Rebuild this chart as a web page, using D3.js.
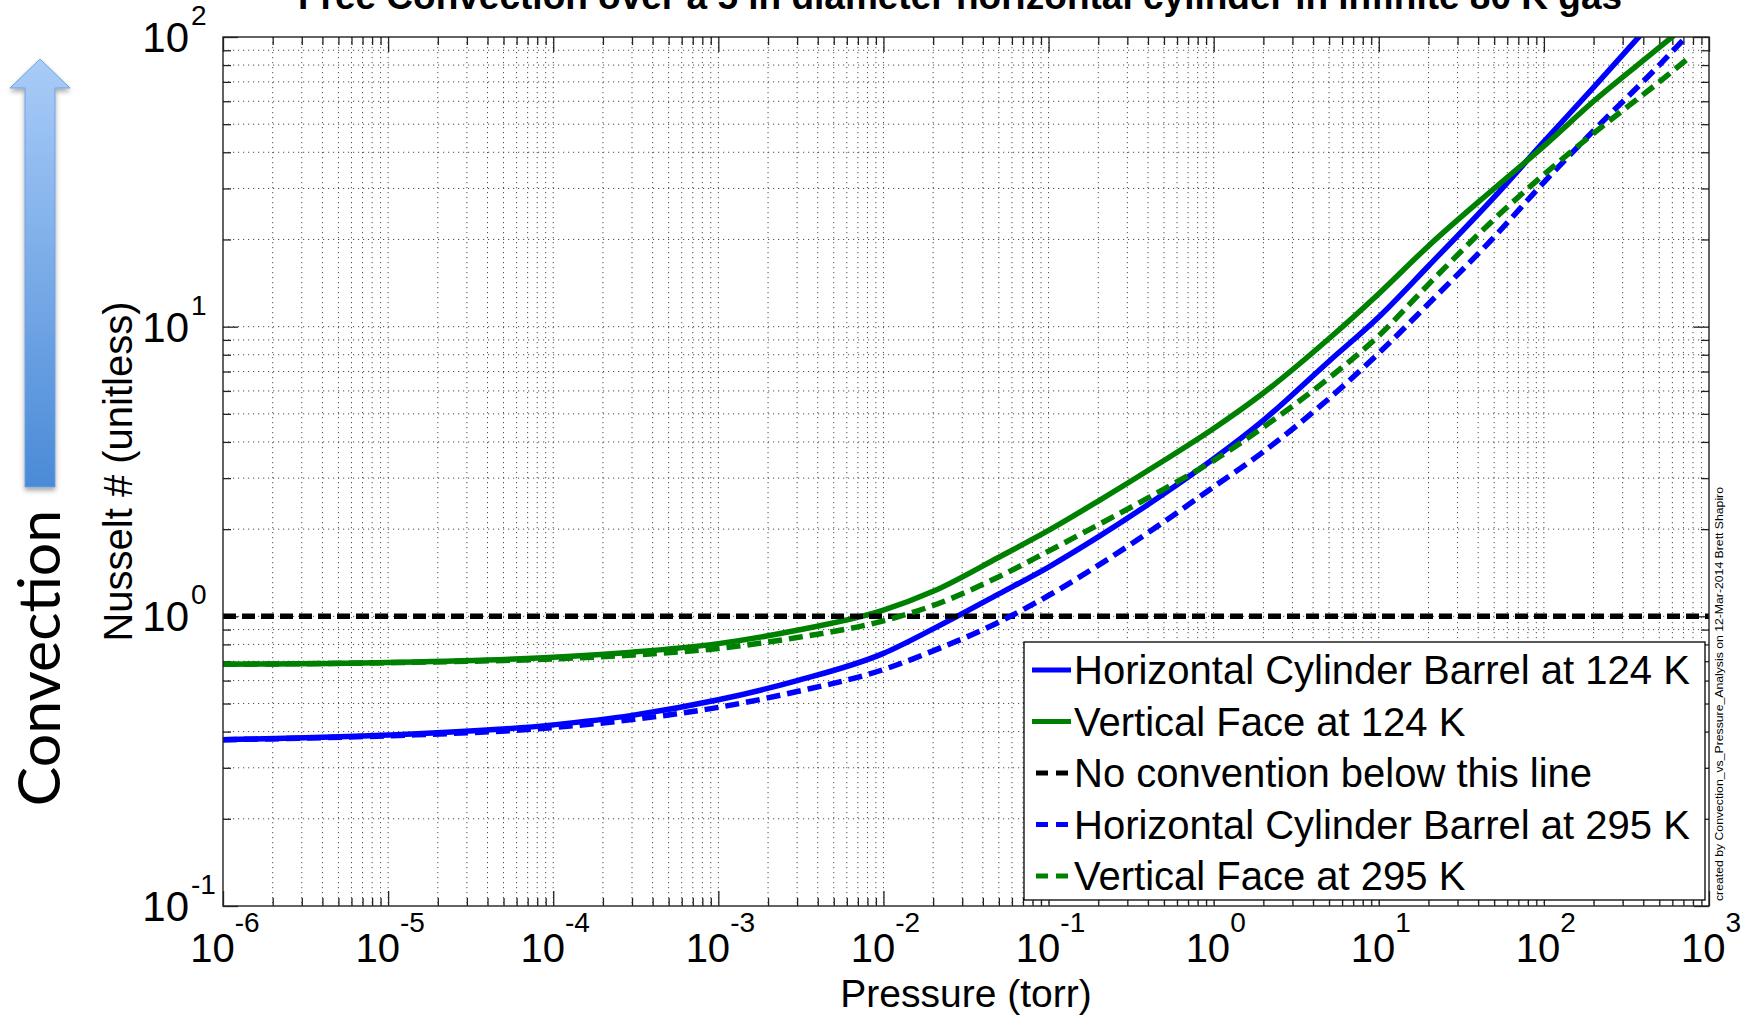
<!DOCTYPE html>
<html>
<head>
<meta charset="utf-8">
<script src="https://cdn.jsdelivr.net/npm/d3@7"></script>
<style>
  body { margin: 0; background: #fff; }
  svg { display: block; }
</style>
</head>
<body>
<svg id="chart" width="1749" height="1016"></svg>
<script>
// Pressure samples (torr) shared by every curve
const pressure = [1e-6, 1e-5, 1e-4, 3e-4, 1e-3, 3e-3, 1e-2, 2e-2, 5e-2, 0.1, 0.2, 0.5, 1, 2, 5, 10, 20, 50, 100, 200, 500, 760];

// Nusselt number for each case at the pressures above
const nuBarrel124 = [0.375, 0.389, 0.422, 0.455, 0.515, 0.60, 0.745, 0.905, 1.195, 1.48, 1.88, 2.65, 3.5, 4.75, 7.6, 10.8, 16.2, 28, 43.5, 67, 120, 157];
const nuFace124   = [0.683, 0.693, 0.722, 0.752, 0.805, 0.895, 1.05, 1.22, 1.60, 1.98, 2.5, 3.45, 4.45, 5.9, 9.1, 13.0, 19.0, 30, 42, 60, 92, 112];
const nuBarrel295 = [0.375, 0.387, 0.413, 0.44, 0.485, 0.55, 0.655, 0.76, 0.955, 1.18, 1.50, 2.12, 2.8, 3.7, 5.65, 8.1, 12.0, 20.4, 31.5, 47.5, 80, 103];
const nuFace295   = [0.683, 0.692, 0.713, 0.735, 0.775, 0.845, 0.965, 1.09, 1.37, 1.68, 2.07, 2.75, 3.45, 4.5, 6.65, 9.3, 14.0, 23.5, 33.5, 46.5, 70, 85];

// Threshold below which there is no convection
const noConvectionLevel = 1;

// Axis decades (powers of ten)
const xTickExponents = [-6, -5, -4, -3, -2, -1, 0, 1, 2, 3];
const yTickExponents = [-1, 0, 1, 2];

const legendLabels = [
  "Horizontal Cylinder Barrel at 124 K",
  "Vertical Face at 124 K",
  "No convention below this line",
  "Horizontal Cylinder Barrel at 295 K",
  "Vertical Face at 295 K"
];

const titleText = "Free Convection over a 5 in diameter horizontal cylinder in infinite 80 K gas";
const xLabel = "Pressure (torr)";
const yLabel = "Nusselt # (unitless)";
const sideLabel = "Convection";
const creditText = "created by Convection_vs_Pressure_Analysis on 12-Mar-2014 Brett Shapiro";

// ---------------------------------------------------------------------------
const BLUE = "#0000ff", GREEN = "#008000", BLACK = "#000000";
const FONT = "'Liberation Sans', Arial, Helvetica, sans-serif";

const svg = d3.select("#chart");
const plot = { left: 223, top: 37, right: 1709, bottom: 906 };

const x = d3.scaleLog()
  .domain([Math.pow(10, xTickExponents[0]), Math.pow(10, xTickExponents[xTickExponents.length - 1])])
  .range([plot.left, plot.right]);
const y = d3.scaleLog()
  .domain([Math.pow(10, yTickExponents[0]), Math.pow(10, yTickExponents[yTickExponents.length - 1])])
  .range([plot.bottom, plot.top]);

const series = [
  { label: legendLabels[0], values: nuBarrel124, color: BLUE,  dashed: false },
  { label: legendLabels[1], values: nuFace124,   color: GREEN, dashed: false },
  { label: legendLabels[2], values: null,        color: BLACK, dashed: true  },
  { label: legendLabels[3], values: nuBarrel295, color: BLUE,  dashed: true  },
  { label: legendLabels[4], values: nuFace295,   color: GREEN, dashed: true  }
];

// major / minor tick values for a log axis spanning the given decades
function logTicks(exps) {
  const major = [], minor = [];
  exps.forEach((e, i) => {
    const base = Math.pow(10, e);
    major.push(base);
    if (i < exps.length - 1) for (let k = 2; k <= 9; k++) minor.push(+(k * base).toPrecision(6));
  });
  return { major, minor };
}
const xt = logTicks(xTickExponents);
const yt = logTicks(yTickExponents);

const defs = svg.append("defs");
defs.append("clipPath").attr("id", "plotClip")
  .append("rect")
  .attr("x", plot.left).attr("y", plot.top)
  .attr("width", plot.right - plot.left).attr("height", plot.bottom - plot.top);

// ---------- dotted grid (major and minor) ----------
const grid = svg.append("g").attr("stroke", "#111").attr("stroke-width", 1)
  .attr("stroke-dasharray", "1.2,3.8").attr("opacity", 0.75);
grid.selectAll("line.gx").data(xt.major.concat(xt.minor).filter(v => x(v) > plot.left + 1 && x(v) < plot.right - 1))
  .join("line").attr("class", "gx")
  .attr("x1", d => x(d)).attr("x2", d => x(d))
  .attr("y1", plot.top).attr("y2", plot.bottom);
grid.selectAll("line.gy").data(yt.major.concat(yt.minor).filter(v => y(v) > plot.top + 1 && y(v) < plot.bottom - 1))
  .join("line").attr("class", "gy")
  .attr("y1", d => y(d)).attr("y2", d => y(d))
  .attr("x1", plot.left).attr("x2", plot.right);

// ---------- inward ticks on all four sides ----------
function addTicks(axisFn, scale, values, size, transform) {
  svg.append("g").attr("transform", transform)
    .call(axisFn(scale).tickValues(values).tickSizeInner(size).tickSizeOuter(0).tickFormat(""))
    .call(g => g.select(".domain").remove())
    .selectAll("line").attr("stroke", "#222").attr("stroke-width", 1.3);
}
addTicks(d3.axisBottom, x, xt.major, -15, `translate(0,${plot.bottom})`);
addTicks(d3.axisBottom, x, xt.minor, -8, `translate(0,${plot.bottom})`);
addTicks(d3.axisTop, x, xt.major, -15, `translate(0,${plot.top})`);
addTicks(d3.axisTop, x, xt.minor, -8, `translate(0,${plot.top})`);
addTicks(d3.axisLeft, y, yt.major, -15, `translate(${plot.left},0)`);
addTicks(d3.axisLeft, y, yt.minor, -8, `translate(${plot.left},0)`);
addTicks(d3.axisRight, y, yt.major, -15, `translate(${plot.right},0)`);
addTicks(d3.axisRight, y, yt.minor, -8, `translate(${plot.right},0)`);

// ---------- curves ----------
const lineGen = d3.line()
  .x(d => x(d[0])).y(d => y(d[1]))
  .curve(d3.curveMonotoneX);

const curves = svg.append("g").attr("clip-path", "url(#plotClip)").attr("fill", "none");
series.forEach(s => {
  const pts = s.values
    ? pressure.map((p, i) => [p, s.values[i]])
    : [[x.domain()[0], noConvectionLevel], [x.domain()[1], noConvectionLevel]];
  curves.append("path")
    .attr("d", lineGen(pts))
    .attr("stroke", s.color)
    .attr("stroke-width", 5.5)
    .attr("stroke-dasharray", s.dashed ? (s.values ? "14,7" : "13,6") : null)
    .attr("stroke-linejoin", "round");
});

// ---------- axes box ----------
svg.append("rect")
  .attr("x", plot.left).attr("y", plot.top)
  .attr("width", plot.right - plot.left).attr("height", plot.bottom - plot.top)
  .attr("fill", "none").attr("stroke", "#222").attr("stroke-width", 1.4);

// ---------- tick labels (10 with superscript exponent) ----------
const xLab = svg.append("g").attr("font-family", FONT).attr("fill", "#000");
xTickExponents.forEach(e => {
  const t = xLab.append("text")
    .attr("x", x(Math.pow(10, e)) + 2).attr("y", 962)
    .attr("text-anchor", "middle").attr("font-size", 40);
  t.append("tspan").text("10");
  t.append("tspan").attr("dy", -30).attr("font-size", 28).text(String(e));
});

const yLab = svg.append("g").attr("font-family", FONT).attr("fill", "#000");
yTickExponents.forEach(e => {
  const yy = y(Math.pow(10, e));
  yLab.append("text").attr("x", 189).attr("y", yy + 15)
    .attr("text-anchor", "end").attr("font-size", 42).text("10");
  yLab.append("text").attr("x", 191).attr("y", yy - 12)
    .attr("text-anchor", "start").attr("font-size", 28).text(String(e));
});

// ---------- axis titles ----------
svg.append("text")
  .attr("x", (plot.left + plot.right) / 2).attr("y", 1007)
  .attr("text-anchor", "middle").attr("font-family", FONT).attr("font-size", 39)
  .text(xLabel);

svg.append("text")
  .attr("transform", `translate(132,${(plot.top + plot.bottom) / 2}) rotate(-90)`)
  .attr("text-anchor", "middle").attr("font-family", FONT).attr("font-size", 40)
  .text(yLabel);

// title (runs off the top edge of the figure)
svg.append("text")
  .attr("x", 960).attr("y", 9)
  .attr("text-anchor", "middle").attr("font-family", FONT).attr("font-size", 37)
  .attr("font-weight", "bold")
  .text(titleText);

// credit line along the right edge
svg.append("text")
  .attr("transform", "translate(1723,901) rotate(-90)")
  .attr("text-anchor", "start").attr("font-family", FONT).attr("font-size", 11)
  .attr("textLength", 414).attr("lengthAdjust", "spacingAndGlyphs")
  .text(creditText);

// ---------- legend ----------
const legend = { x: 1024, y: 642, w: 681, h: 258, rowGap: 51.5, firstRow: 670 };
const lg = svg.append("g");
lg.append("rect")
  .attr("x", legend.x).attr("y", legend.y).attr("width", legend.w).attr("height", legend.h)
  .attr("fill", "#fff").attr("stroke", "#000").attr("stroke-width", 1.3);
series.forEach((s, i) => {
  const cy = legend.firstRow + i * legend.rowGap;
  lg.append("line")
    .attr("x1", s.dashed ? 1036 : 1032).attr("x2", s.dashed ? 1068 : 1071)
    .attr("y1", cy).attr("y2", cy)
    .attr("stroke", s.color).attr("stroke-width", 5)
    .attr("stroke-dasharray", s.dashed ? "12,8" : null);
  lg.append("text")
    .attr("x", 1074).attr("y", cy + 14)
    .attr("font-family", FONT).attr("font-size", 40).attr("fill", "#000")
    .text(s.label);
});

// ---------- "Convection" arrow on the left ----------
const grad = defs.append("linearGradient").attr("id", "arrowFill")
  .attr("x1", 0).attr("y1", 0).attr("x2", 0).attr("y2", 1);
grad.append("stop").attr("offset", "0%").attr("stop-color", "#a9ccf8");
grad.append("stop").attr("offset", "100%").attr("stop-color", "#4a8ad7");

const shadow = defs.append("filter").attr("id", "arrowShadow")
  .attr("x", "-30%").attr("y", "-5%").attr("width", "160%").attr("height", "115%");
shadow.append("feDropShadow").attr("dx", 0).attr("dy", 3).attr("stdDeviation", 2.5)
  .attr("flood-color", "#000").attr("flood-opacity", 0.35);

const arrowPts = [[40, 59], [70, 88], [55, 88], [55, 487], [25, 487], [25, 88], [10, 88]];
svg.append("path")
  .attr("d", d3.line()(arrowPts) + "Z")
  .attr("fill", "url(#arrowFill)")
  .attr("stroke", "#6f9fe0").attr("stroke-width", 1)
  .attr("filter", "url(#arrowShadow)");

svg.append("text")
  .attr("transform", "translate(60,658) rotate(-90)")
  .attr("text-anchor", "middle").attr("font-family", "Lato, 'Open Sans', sans-serif")
  .attr("font-size", 59).attr("fill", "#000")
  .text(sideLabel);
</script>
</body>
</html>
